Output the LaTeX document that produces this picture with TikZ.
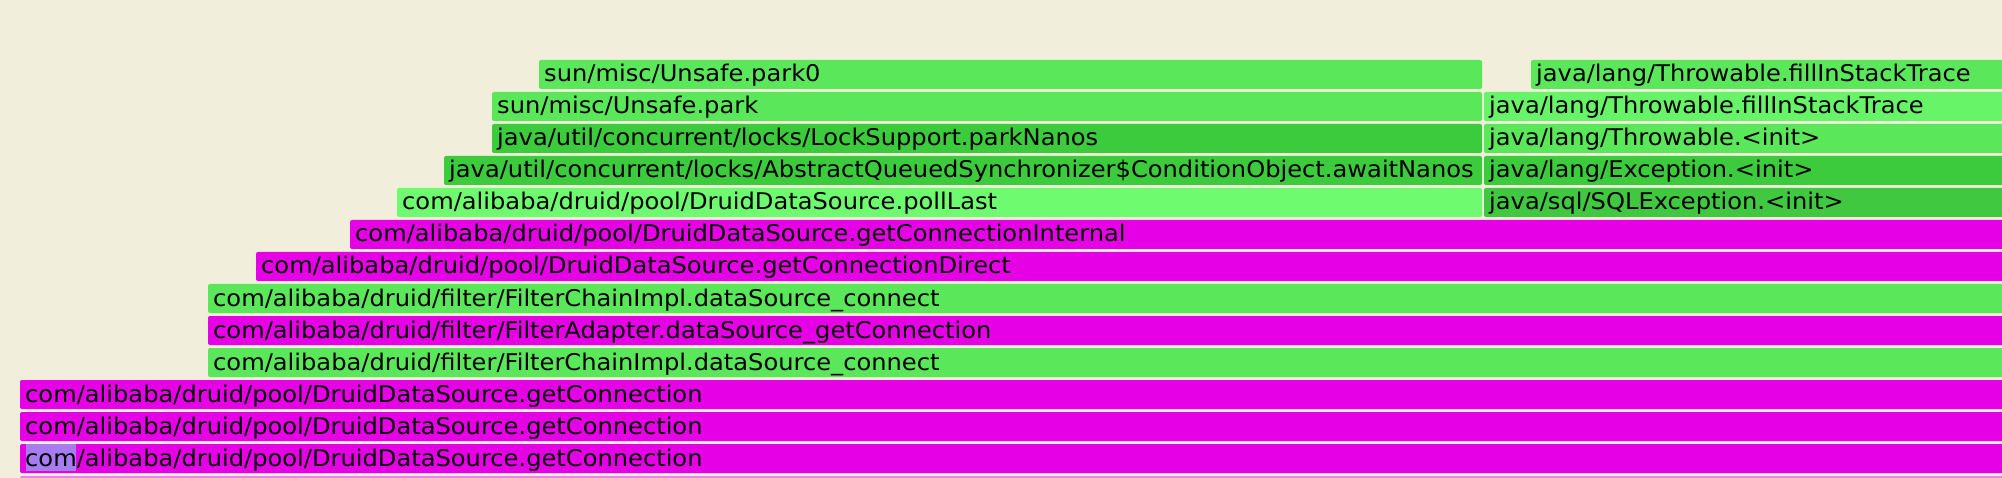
\documentclass[tikz,border=0pt]{standalone}
\usepackage{fontspec}
\newfontfamily\flamefont{DejaVu Sans}[FakeStretch=1.05]

\definecolor{bgcream}{HTML}{F1EFDC}
\definecolor{jitmagenta}{HTML}{E600E6}
\definecolor{pinkrow}{HTML}{F07CF0}
\definecolor{greenmid}{HTML}{5AE85A}
\definecolor{greenlight}{HTML}{6FFB6F}
\definecolor{greenpale}{HTML}{68F468}
\definecolor{greendark}{HTML}{3CCB3C}
\definecolor{greendeep}{HTML}{40C940}
\definecolor{searchhit}{HTML}{A67CF0}

\tikzset{
  flame/.style={rounded corners=2pt},
  flametext/.style={anchor=base west, inner sep=0pt, text=black,
    font=\flamefont\fontsize{23}{23}\selectfont},
}

% name, row, left, right, colour, text
\newcommand\flamebox[6]{%
  \fill[flame, #5] (#3, {60+32*#2}) rectangle (#4, {89+32*#2});
  \node[flametext] (#1) at ({#3+5}, {82+32*#2}) {#6};
}

\begin{document}
\begin{tikzpicture}[x=1pt, y=-1pt]

  \fill[bgcream] (0,0) rectangle (2002,478);
  \useasboundingbox (0,0) rectangle (2002,478);
  \clip (0,0) rectangle (2002,478);

  % left tower
  \flamebox{park0}{0}{539}{1482}{greenmid}{sun/misc/Unsafe.park0}
  \flamebox{park}{1}{492}{1482}{greenmid}{sun/misc/Unsafe.park}
  \flamebox{parknanos}{2}{492}{1482}{greendark}{java/util/concurrent/locks/LockSupport.parkNanos}
  \flamebox{awaitnanos}{3}{444}{1482}{greendark}{java/util/concurrent/locks/AbstractQueuedSynchronizer\$ConditionObject.awaitNanos}
  \flamebox{polllast}{4}{397}{1482}{greenlight}{com/alibaba/druid/pool/DruidDataSource.pollLast}

  % right tower
  \flamebox{fillstackA}{0}{1531}{2010}{greenmid}{java/lang/Throwable.fillInStackTrace}
  \flamebox{fillstackB}{1}{1484}{2010}{greenpale}{java/lang/Throwable.fillInStackTrace}
  \flamebox{throwinit}{2}{1484}{2010}{greenmid}{java/lang/Throwable.<init>}
  \flamebox{excinit}{3}{1484}{2010}{greendark}{java/lang/Exception.<init>}
  \flamebox{sqlexcinit}{4}{1484}{2010}{greendeep}{java/sql/SQLException.<init>}

  % common stack
  \flamebox{getconnint}{5}{350}{2010}{jitmagenta}{com/alibaba/druid/pool/DruidDataSource.getConnectionInternal}
  \flamebox{getconndir}{6}{256}{2010}{jitmagenta}{com/alibaba/druid/pool/DruidDataSource.getConnectionDirect}
  \flamebox{chainA}{7}{208}{2010}{greenmid}{com/alibaba/druid/filter/FilterChainImpl.dataSource\_connect}
  \flamebox{adapter}{8}{208}{2010}{jitmagenta}{com/alibaba/druid/filter/FilterAdapter.dataSource\_getConnection}
  \flamebox{chainB}{9}{208}{2010}{greenmid}{com/alibaba/druid/filter/FilterChainImpl.dataSource\_connect}
  \flamebox{getconnA}{10}{20}{2010}{jitmagenta}{com/alibaba/druid/pool/DruidDataSource.getConnection}
  \flamebox{getconnB}{11}{20}{2010}{jitmagenta}{com/alibaba/druid/pool/DruidDataSource.getConnection}
  \fill[flame, jitmagenta] (20,444) rectangle (2010,473);
  \fill[searchhit] (26,444) rectangle (76,471);
  \node[flametext] (getconnC) at (25,82+32*12) {com/alibaba/druid/pool/DruidDataSource.getConnection};
  \fill[flame, pinkrow] (20,476) rectangle (2010,505);

\end{tikzpicture}
\end{document}
